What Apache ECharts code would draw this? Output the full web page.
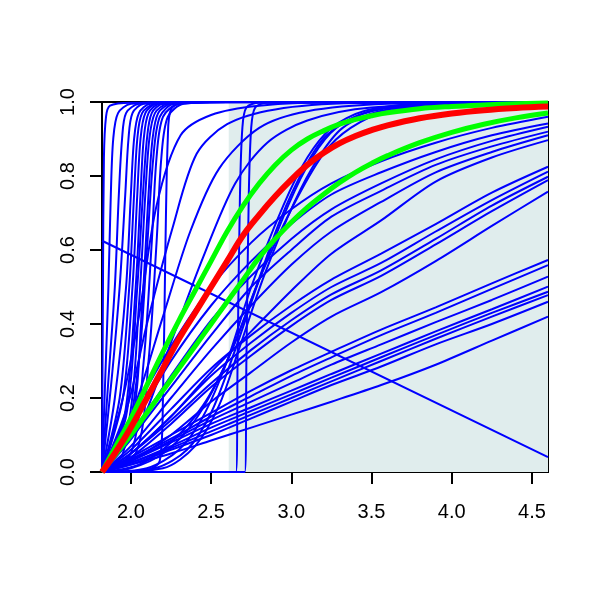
<!DOCTYPE html>
<html><head><meta charset="utf-8">
<script src="https://cdn.jsdelivr.net/npm/echarts@6.0.0/dist/echarts.min.js"></script>
<style>html,body{margin:0;padding:0;background:#fff}#c{width:600px;height:600px}</style>
</head><body><div id="c"></div>
<script>
// ---- data ----
const xTicks = [2.0, 2.5, 3.0, 3.5, 4.0, 4.5];
const shadeStart = 2.61;
const xRange = [1.82, 4.6];

// shared x positions for the smooth reference curves
const fitX = [1.82, 1.9, 2.0, 2.1, 2.2, 2.3, 2.4, 2.5, 2.6, 2.7, 2.8, 2.9, 3.0, 3.1, 3.2, 3.3, 3.4, 3.5, 3.6, 3.8, 4.0, 4.2, 4.4, 4.6];
const redFit = [0, 0.05, 0.12, 0.2, 0.28, 0.36, 0.43, 0.5, 0.57, 0.64, 0.695, 0.745, 0.79, 0.83, 0.862, 0.888, 0.908, 0.924, 0.937, 0.956, 0.969, 0.978, 0.984, 0.988];
const greenUpper = [0, 0.065, 0.145, 0.235, 0.325, 0.41, 0.49, 0.57, 0.65, 0.72, 0.78, 0.83, 0.87, 0.9, 0.922, 0.94, 0.953, 0.963, 0.971, 0.982, 0.988, 0.992, 0.995, 0.997];
const greenLower = [0, 0.045, 0.1, 0.16, 0.22, 0.28, 0.34, 0.4, 0.46, 0.52, 0.58, 0.63, 0.675, 0.715, 0.75, 0.782, 0.81, 0.834, 0.855, 0.89, 0.918, 0.94, 0.957, 0.97];

// blue curves given as [x, y] points
const edgeCurves = [
  [[1.82,0],[1.826,0.5],[1.832,0.85],[1.845,0.96],[1.87,0.99],[2.0,0.998],[4.6,1]]
];
const steepCurves = [
  [[1.82,0],[1.84,0.25],[1.86,0.5],[1.875,0.75],[1.89,0.9],[1.92,0.97],[2.0,0.995],[2.3,1],[4.6,1]],
  [[1.82,0],[1.86,0.25],[1.9,0.5],[1.925,0.75],[1.945,0.9],[1.97,0.97],[2.05,0.995],[2.3,1],[4.6,1]],
  [[1.82,0],[1.88,0.25],[1.93,0.5],[1.965,0.75],[1.985,0.9],[2.01,0.97],[2.08,0.995],[2.4,1],[4.6,1]],
  [[1.82,0],[1.9,0.2],[1.97,0.5],[2.0,0.75],[2.02,0.9],[2.05,0.97],[2.12,0.995],[2.4,1],[4.6,1]],
  [[1.82,0],[1.93,0.2],[1.99,0.5],[2.02,0.75],[2.04,0.9],[2.07,0.97],[2.15,0.995],[2.4,1],[4.6,1]],
  [[1.82,0],[1.95,0.2],[2.01,0.5],[2.04,0.75],[2.06,0.9],[2.09,0.97],[2.16,0.995],[2.4,1],[4.6,1]],
  [[1.82,0],[1.96,0.15],[2.03,0.5],[2.06,0.75],[2.08,0.9],[2.11,0.97],[2.18,0.995],[2.5,1],[4.6,1]],
  [[1.82,0],[1.97,0.15],[2.04,0.5],[2.075,0.75],[2.1,0.9],[2.13,0.97],[2.2,0.995],[2.5,1],[4.6,1]],
  [[1.82,0],[1.98,0.12],[2.05,0.45],[2.09,0.75],[2.115,0.9],[2.15,0.97],[2.23,0.995],[2.5,1],[4.6,1]],
  [[1.82,0],[2.0,0.12],[2.07,0.45],[2.11,0.75],[2.135,0.9],[2.17,0.97],[2.25,0.995],[2.5,1],[4.6,1]],
  [[1.82,0],[1.95,0.05],[2.05,0.3],[2.1,0.6],[2.14,0.85],[2.18,0.96],[2.27,0.995],[2.6,1],[4.6,1]],
  [[1.82,0],[2.0,0.05],[2.08,0.3],[2.13,0.62],[2.16,0.85],[2.2,0.96],[2.3,0.995],[2.6,1],[4.6,1]],
  [[1.82,0],[2.03,0.05],[2.11,0.3],[2.16,0.62],[2.19,0.85],[2.23,0.96],[2.33,0.995],[2.6,1],[4.6,1]],
  [[1.82,0],[2.1,0.005],[2.18,0.03],[2.2,0.2],[2.215,0.6],[2.23,0.9],[2.25,0.98],[2.35,1],[4.6,1]]
];
const mediumCurves = [
  [[1.82,0],[1.95,0.2],[2.05,0.42],[2.16,0.72],[2.31,0.91],[2.5,0.965],[2.8,0.99],[3.3,1],[4.6,1]],
  [[1.82,0],[1.98,0.18],[2.1,0.4],[2.26,0.66],[2.41,0.86],[2.6,0.94],[2.9,0.98],[3.4,0.997],[4.6,1]],
  [[1.82,0],[2.0,0.15],[2.2,0.42],[2.37,0.65],[2.55,0.82],[2.8,0.93],[3.1,0.975],[3.6,0.995],[4.6,1]],
  [[1.82,0],[2.05,0.12],[2.25,0.35],[2.45,0.58],[2.65,0.78],[2.85,0.89],[3.1,0.95],[3.5,0.985],[4.6,1]]
];
const sCurves = [
  [[1.82,0],[2.1,0.01],[2.3,0.06],[2.45,0.15],[2.6,0.3],[2.75,0.5],[2.95,0.72],[3.1,0.85],[3.25,0.93],[3.45,0.975],[3.8,0.995],[4.6,1]],
  [[1.82,0],[2.15,0.01],[2.35,0.06],[2.5,0.16],[2.65,0.33],[2.8,0.52],[2.98,0.72],[3.13,0.85],[3.28,0.93],[3.5,0.975],[3.9,0.995],[4.6,1]],
  [[1.82,0],[2.2,0.01],[2.4,0.07],[2.55,0.18],[2.68,0.34],[2.83,0.53],[3.02,0.73],[3.17,0.85],[3.32,0.93],[3.55,0.975],[3.95,0.995],[4.6,1]],
  [[1.82,0],[2.0,0.01],[2.2,0.05],[2.4,0.14],[2.6,0.3],[2.8,0.52],[3.0,0.71],[3.2,0.86],[3.37,0.93],[3.6,0.975],[4.0,0.995],[4.6,1]],
  [[1.82,0],[2.05,0.02],[2.25,0.08],[2.45,0.18],[2.62,0.32],[2.78,0.5],[2.93,0.68],[3.08,0.82],[3.22,0.91],[3.45,0.97],[3.8,0.995],[4.6,1]]
];
const stepCurves = [
  [[1.82,0],[2.655,0],[2.665,0.3],[2.68,0.75],[2.695,0.93],[2.72,0.985],[2.8,0.998],[4.6,1]],
  [[1.82,0],[2.71,0],[2.72,0.3],[2.735,0.75],[2.75,0.93],[2.775,0.985],[2.85,0.998],[4.6,1]]
];

// slowly rising curves on a shared x grid
const slowX = [1.82, 2.0, 2.25, 2.5, 2.75, 3.0, 3.25, 3.56, 3.9, 4.25, 4.6];
const slowHigh = [
  [0, 0.15, 0.34, 0.5, 0.62, 0.71, 0.78, 0.84, 0.89, 0.93, 0.96],
  [0, 0.12, 0.3, 0.45, 0.57, 0.67, 0.75, 0.81, 0.865, 0.91, 0.942],
  [0, 0.1, 0.26, 0.41, 0.53, 0.63, 0.71, 0.78, 0.845, 0.895, 0.933],
  [0, 0.09, 0.23, 0.37, 0.5, 0.6, 0.69, 0.76, 0.83, 0.88, 0.92],
  [0, 0.07, 0.2, 0.33, 0.45, 0.56, 0.65, 0.73, 0.81, 0.865, 0.91],
  [0, 0.05, 0.15, 0.27, 0.38, 0.49, 0.59, 0.68, 0.785, 0.85, 0.897]
];
const slowMid = [
  [0, 0.06, 0.17, 0.28, 0.37, 0.45, 0.52, 0.59, 0.67, 0.755, 0.825],
  [0, 0.05, 0.15, 0.26, 0.35, 0.43, 0.5, 0.565, 0.65, 0.735, 0.812],
  [0, 0.05, 0.14, 0.24, 0.33, 0.41, 0.48, 0.545, 0.63, 0.72, 0.798],
  [0, 0.04, 0.13, 0.23, 0.315, 0.395, 0.465, 0.53, 0.615, 0.705, 0.789],
  [0, 0.03, 0.1, 0.19, 0.27, 0.35, 0.42, 0.486, 0.57, 0.665, 0.758]
];
const slowLow = [
  [0, 0.04, 0.1, 0.16, 0.22, 0.275, 0.325, 0.385, 0.445, 0.51, 0.573],
  [0, 0.035, 0.09, 0.15, 0.205, 0.26, 0.31, 0.37, 0.43, 0.495, 0.559],
  [0, 0.03, 0.085, 0.14, 0.19, 0.24, 0.29, 0.345, 0.405, 0.465, 0.528],
  [0, 0.03, 0.08, 0.13, 0.175, 0.22, 0.265, 0.32, 0.38, 0.44, 0.501],
  [0, 0.025, 0.07, 0.12, 0.165, 0.21, 0.255, 0.31, 0.37, 0.43, 0.487],
  [0, 0.025, 0.065, 0.11, 0.155, 0.2, 0.245, 0.3, 0.36, 0.42, 0.478],
  [0, 0.02, 0.06, 0.1, 0.145, 0.19, 0.235, 0.285, 0.345, 0.4, 0.46],
  [0, 0.02, 0.05, 0.085, 0.12, 0.155, 0.19, 0.235, 0.29, 0.355, 0.42]
];
const descendingLine = [[1.82, 0.625], [4.6, 0.04]];

// ---- build chart ----
const FONT = 'Liberation Sans, Arial, Helvetica, sans-serif';
const zipX = (xs, ys) => xs.map((x, i) => [x, ys[i]]);
const blueSets = [].concat(
  edgeCurves, steepCurves, mediumCurves, sCurves, stepCurves,
  slowHigh.map(v => zipX(slowX, v)), slowMid.map(v => zipX(slowX, v)), slowLow.map(v => zipX(slowX, v)),
  [descendingLine]
);

const series = [];
series.push({
  type: 'line', data: [[xRange[0], 0]], symbol: 'none', lineStyle: { opacity: 0 }, z: 1, silent: true,
  markArea: { silent: true, itemStyle: { color: '#E0EDED' }, data: [[{ xAxis: shadeStart }, { xAxis: xRange[1] }]] }
});
blueSets.forEach(d => series.push({
  type: 'line', data: d, symbol: 'none', smooth: 0.3, z: 2, silent: true,
  lineStyle: { color: '#0000FF', width: 2 }
}));
series.push({ type: 'line', data: zipX(fitX, greenUpper), symbol: 'none', smooth: 0.4, z: 3, lineStyle: { color: '#00FF00', width: 5 } });
series.push({ type: 'line', data: zipX(fitX, greenLower), symbol: 'none', smooth: 0.4, z: 3, lineStyle: { color: '#00FF00', width: 5 } });
series.push({ type: 'line', data: zipX(fitX, redFit), symbol: 'none', smooth: 0.4, z: 4, lineStyle: { color: '#FF0000', width: 6 } });

const chart = echarts.init(document.getElementById('c'), null, { renderer: 'canvas' });
chart.setOption({
  animation: false,
  backgroundColor: '#fff',
  grid: { left: 102, right: 52, top: 102, bottom: 128, show: true, borderColor: '#000', borderWidth: 2, backgroundColor: 'transparent' },
  xAxis: {
    type: 'value', min: xRange[0], max: xRange[1],
    axisLine: { show: false }, splitLine: { show: false },
    axisTick: { show: true, length: 12, lineStyle: { color: '#000', width: 2 }, customValues: xTicks },
    axisLabel: { customValues: xTicks, formatter: v => v.toFixed(1), fontSize: 20, color: '#000', margin: 30, fontFamily: FONT }
  },
  yAxis: {
    type: 'value', min: 0, max: 1, interval: 0.2,
    axisLine: { show: false }, splitLine: { show: false },
    axisTick: { show: true, length: 12, lineStyle: { color: '#000', width: 2 } },
    axisLabel: { rotate: 90, formatter: v => v.toFixed(1), fontSize: 20, color: '#000', margin: 24, fontFamily: FONT }
  },
  series: series
});
</script></body></html>
